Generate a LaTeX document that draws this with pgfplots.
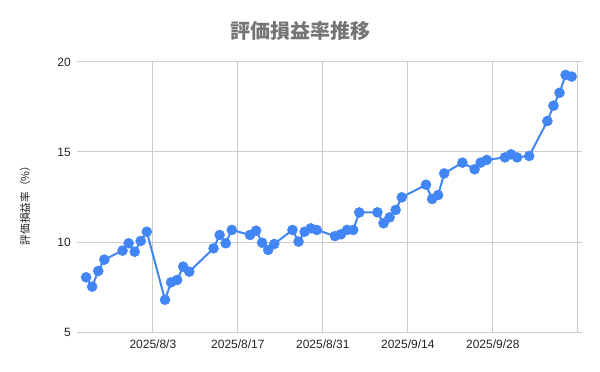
\documentclass[border=0pt]{standalone}
\usepackage{fontspec}
\setmainfont{Liberation Sans}
\newfontfamily\cjk{Noto Sans CJK JP}
\usepackage{pgfplots}
\pgfplotsset{compat=1.18}
\definecolor{gblue}{HTML}{4285F4}
\definecolor{gridc}{HTML}{CCCCCC}
\definecolor{ttl}{HTML}{757575}
\definecolor{tickc}{HTML}{222222}
\begin{document}
\begin{tikzpicture}[x=1bp,y=1bp]
\path[use as bounding box] (0,0) rectangle (600,371);
\node[font=\cjk\bfseries\fontsize{20bp}{24bp}\selectfont, text=ttl] at (300,340) {評価損益率推移};
\node[rotate=90, font=\cjk\fontsize{10.7bp}{13bp}\selectfont, text=tickc] at (25,168) {評価損益率（\%）};
\begin{axis}[
  at={(77bp,39bp)}, anchor=south west,
  scale only axis, width=505bp, height=270bp,
  xmin=-12.5, xmax=70.7, ymin=5, ymax=20,
  xtick={0,14,28,42,56,70},
  xticklabels={2025/8/3,2025/8/17,2025/8/31,2025/9/14,2025/9/28,{}},
  ytick={5,10,15,20},
  grid=major,
  major grid style={draw=gridc, line width=1bp},
  axis line style={draw=none},
  tick style={draw=none},
  /pgf/number format/assume math mode=true,
  ticklabel style={font=\fontsize{12bp}{14bp}\selectfont, text=tickc, inner sep=0pt},
  yticklabel style={anchor=east, xshift=-6bp},
  xticklabel style={anchor=north, yshift=-8bp},
  clip=false,
]
\addplot[color=gblue, line width=2bp, mark=*, mark size=5bp, mark options={solid, fill=gblue, draw=gblue, line width=0.5bp}] table {
x y
-11 8.04
-10 7.52
-9 8.39
-8 9.02
-5 9.52
-4 9.93
-3 9.46
-2 10.06
-1 10.57
2 6.79
3 7.76
4 7.89
5 8.63
6 8.35
10 9.65
11 10.39
12 9.93
13 10.67
16 10.39
17 10.63
18 9.96
19 9.56
20 9.89
23 10.67
24 10.02
25 10.57
26 10.76
27 10.67
30 10.33
31 10.43
32 10.67
33 10.67
34 11.64
37 11.65
38 11.04
39 11.37
40 11.78
41 12.48
45 13.18
46 12.39
47 12.61
48 13.81
51 14.41
53 14.04
54 14.41
55 14.56
58 14.70
59 14.87
60 14.70
62 14.78
65 16.72
66 17.57
67 18.29
68 19.28
69 19.19
};
\end{axis}
\end{tikzpicture}
\end{document}
